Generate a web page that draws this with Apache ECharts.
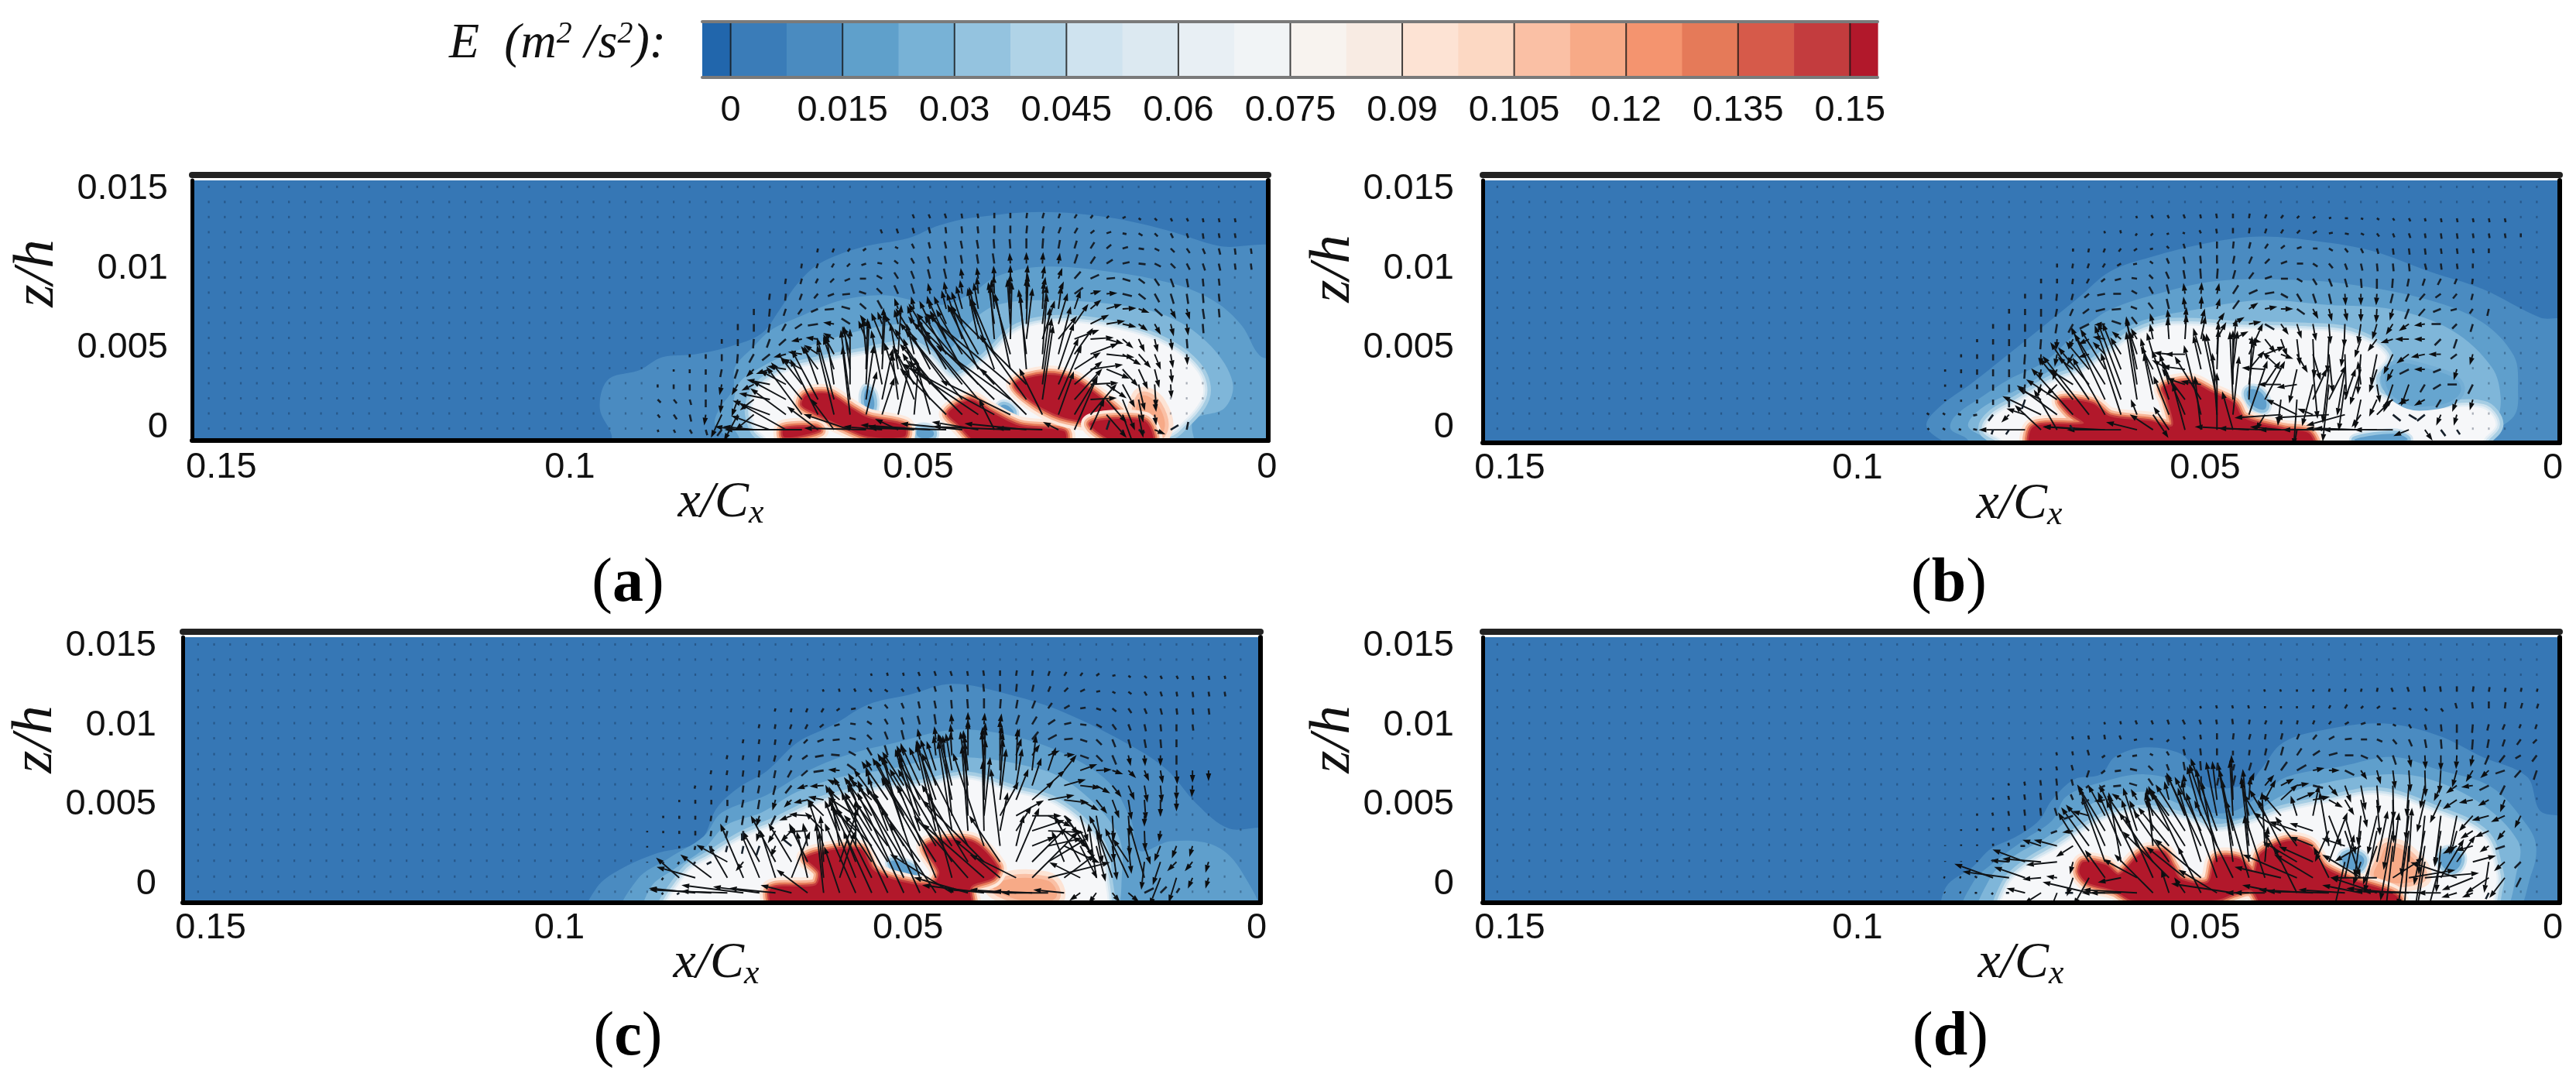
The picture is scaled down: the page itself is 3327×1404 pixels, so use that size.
<!DOCTYPE html>
<html><head><meta charset="utf-8">
<script src="https://cdn.jsdelivr.net/npm/echarts@6/dist/echarts.min.js"></script>
<style>html,body{margin:0;background:#fff}#c{width:3327px;height:1404px;filter:blur(0.7px)}</style>
</head><body><div id="c"></div>
<script>
// ---------- colour bar ----------
const colorbarEdges=[-0.0038,0,0.0075,0.015,0.0225,0.03,0.0375,0.045,0.0525,0.06,0.0675,0.075,0.0825,0.09,0.0975,0.105,0.1125,0.12,0.1275,0.135,0.1425,0.15,0.1537];
const colorbarColors=["#2166ac","#3a7cb8","#4a8bc0","#5fa0cb","#78b2d6","#94c3df","#b0d3e7","#cfe3ef","#dce9f1","#e8eff4","#f1f4f6","#f8f3ef","#f8ebe3","#fde3d4","#fcd8c3","#fac0a5","#f7aa87","#f4946f","#e57a59","#d65a4a","#c33c3e","#b2182b"];
const colorbarTicks=[0,0.015,0.03,0.045,0.06,0.075,0.09,0.105,0.12,0.135,0.15];
const xTicks=[0,0.05,0.1,0.15];
const zTicks=[0,0.005,0.01,0.015];
// ---------- measurement lattice (x/Cx and z/h, in thousandths) ----------
const latticeX=[2.3,4.6,6.9,9.2,11.5,13.8,16.1,18.4,20.7,23,25.3,27.6,29.9,32.2,34.5,36.8,39.1,41.4,43.7,46,48.3,50.6,52.9,55.2,57.5,59.8,62.1,64.4,66.7,69,71.3,73.6,75.9,78.2,80.5,82.8,85.1,87.4,89.7,92,94.3,96.6,98.9,101.2,103.5,105.8,108.1,110.4,112.7,115,117.3,119.6,121.9,124.2,126.5,128.8,131.1,133.4,135.7,138,140.3,142.6,144.9,147.2,149.5,151.8];
const latticeZTop=[-0.15,0.8,1.75,2.7,3.65,4.6,5.55,6.5,7.45,8.4,9.35,10.3,11.25,12.2,13.15,14.1,15.05];
const latticeZBot=[-0.55,0.4,1.4,2.4,3.35,4.3,5.3,6.2,7.15,8.1,9.1,10.05,11.05,12.1,13.1,14.05,15];
// ---------- E contours, panel a ----------
const a1=[[-2,10.95],[6.8,11.4],[14.4,12.4],[22.7,13.2],[32.3,13.55],[41.9,13.2],[47,12.7],[51.4,11.9],[58.4,11.3],[64.2,10.3],[67.4,9],[69.9,7.4],[72.5,5.9],[76.9,5.1],[82,4.6],[86.8,4.4],[90,3.6],[94.5,3],[95.7,1.2],[94,-0.5],[94,-2],[-2,-2]];
const a2=[[-2,4],[1,4.5],[3.6,6.4],[7.4,7.9],[13.2,9],[22.7,9.8],[32.3,10.1],[38.7,9.5],[42.5,8.4],[47,7.7],[54.6,8.3],[61,8],[67.4,6.9],[71.2,6.1],[73.8,5],[76.3,3.8],[76.6,2.4],[78.5,1.2],[79.2,0.2],[77.6,-0.65],[77,-2],[-2,-2]];
const a3=[[4.9,2.8],[8,5.1],[13.8,6.9],[21.4,7.7],[31.7,8],[38.7,7.7],[42.5,6.6],[45.7,4.95],[48.2,6.4],[54.6,6.4],[62.3,5.6],[68.7,4.6],[72.5,3.8],[75.7,2.8],[76.6,1.2],[76.6,0.1],[75.7,-0.65],[75,-2],[10.6,-2],[10.6,0.4],[6.1,1.2]];
const a4=[[9.3,1.9],[10,3.5],[14.4,5.1],[20.8,6.1],[29.1,6.6],[35.5,6.1],[39.3,4.6],[41.9,3.65],[45,3],[48.9,4.5],[51.4,5],[58.4,4.5],[64.2,4],[68.7,3.5],[72.5,2.5],[73.8,1.2],[73.1,-0.1],[71.9,-0.65],[71,-2],[15.1,-2],[15.1,-0.65],[13.1,-0.1]];
const redA1=[[66.1,2],[62.9,2.1],[59.7,1.2],[57.2,0.6],[52,0.1],[52,-0.57],[57.2,-0.57],[61,0.1],[64.8,0.9],[66.7,1.4]];
const redA2=[[69.3,-0.1],[64.8,0],[64.2,-0.2],[67.4,-0.57],[69.3,-0.6]];
const redA3=[[45.7,0.9],[42.5,1.7],[39.9,1.05],[35.5,0.1],[29.1,-0.25],[29.1,-1],[41.2,-1],[44.4,0.25]];
const redA4=[[36.1,2.7],[31.7,3.3],[27.8,3],[24,1.9],[20.8,0.7],[20.8,0.25],[28.5,0.55],[32.9,1.4]];
const redA5=[[25.3,0.25],[17.6,0.4],[16.4,-1],[21.4,-1]];
const orangeA=[[18.2,1.9],[15.6,1.4],[15,-0.4],[18.2,-0.4]];
const holeA1=[[57.5,2.4],[56.5,2],[56.6,1],[57.6,1.2]];
const holeA2=[[38,1.4],[36.5,1.1],[36.6,0.6],[38.2,0.8]];
const holeA3=[[50,-0.1],[48,-0.2],[48,-0.6],[50,-0.6]];
// ---------- panel b ----------
const b1=[[-2,6.6],[1.8,6.9],[10.1,8.7],[17.7,9.8],[26,11.1],[33.7,11.7],[42,12],[49.6,11.6],[57.9,10.7],[63.7,9.8],[68.1,8.2],[72.6,6.6],[78.3,4.6],[83.5,2.8],[87.9,1.4],[90.1,0.2],[88.5,-0.65],[81.5,-2],[-2,-2]];
const b2=[[5,2.5],[5.6,4.5],[10.1,6.6],[17.7,8],[29.2,9],[38.8,9.3],[48.4,9.2],[56,8.5],[63.7,7.4],[68.8,5.8],[73.2,4.1],[78.3,3],[82.2,1.9],[86,0.7],[86.6,-0.1],[84.1,-0.8],[84,-2],[10.7,-2],[10.7,-0.8],[5.6,0.7]];
const b3=[[7.5,1.9],[8.8,3.8],[14.5,6.1],[22.8,7.4],[32.4,7.7],[42,8],[51.5,7.4],[59.8,6.6],[66.2,5],[72,3.65],[77.1,2.35],[82.2,1.2],[84.1,0.1],[81.5,-0.8],[81,-2],[11.4,-2],[11.4,-0.8],[8.2,0.4]];
const b4=[[10.1,1.2],[17.7,1.2],[24.8,1.9],[26,3.2],[24.1,4.5],[29.2,5.8],[35.6,6.1],[45.2,6.2],[54.7,6.4],[59.8,5.8],[63.7,4.6],[67.5,3.5],[72,2.8],[77.1,1.5],[80.3,0.7],[81.5,-0.1],[79,-0.9],[79,-2],[10.1,-2],[10.1,-0.9],[8.2,0.2]];
const redB1=[[70.7,1.7],[66.2,1.5],[63.7,0.7],[57.9,0.4],[54.7,0.1],[55.4,1.7],[56,2.5],[52.2,2.85],[49,2.2],[45.8,1.5],[44.5,0.6],[38.8,-0.1],[35,-0.4],[34.3,-2],[74.5,-2],[74.8,0],[67.5,0.25],[69.4,0.9]];
const holeB1=[[43.9,2.3],[42,2.2],[41.3,1.2],[43.2,1.4]];
const holeB2=[[28.5,-0.8],[22.8,-0.4],[21,-0.8]];
const eyeB=[[23.5,3.8],[17.2,3.6],[13.2,2.5],[16.5,1.4],[22.8,1.9]];
// ---------- panel c ----------
const c1=[[-2,3.3],[4,3.5],[8.5,5],[12.9,7.2],[18,8.7],[27.6,10.8],[35.3,11.9],[43.6,12.6],[49.9,11.9],[55.7,11.3],[60.8,10],[65.9,8.9],[70.3,7.1],[74.2,6.1],[77.4,4.8],[79.9,2.7],[86.3,1.9],[91.4,0.9],[94.6,-0.2],[95.9,-2],[-2,-2]];
const c2=[[0.2,-2],[2.1,0.75],[5.9,2.4],[12.3,2.7],[16.8,2.1],[18,4],[21.2,6.4],[27.6,8.2],[35.3,9.35],[43.6,9.7],[51.8,8.9],[58.2,8.2],[64,7.2],[70.3,5.6],[76.7,4.5],[79.3,3],[84.4,1.6],[88.8,0.3],[90.8,-2]];
const c3=[[21.2,-2],[19.3,0.75],[20,3.2],[25.1,5.8],[30.8,7.2],[43.6,8],[53.1,7.2],[59.5,6.75],[65.9,5.8],[71,4.5],[76.1,3.7],[79.3,2.2],[83.7,0.9],[86.9,-0.2],[87.6,-2]];
const c4=[[22.5,-2],[21.9,0.75],[23.1,2.7],[28.9,4.97],[35.3,5.8],[41.6,6.6],[48,6.1],[55,5.8],[62.7,5],[69.1,3.7],[73.5,2.9],[78,1.7],[81.8,0.6],[84.4,-2]];
const redC1=[[64.6,1.7],[56.9,2.2],[55,0.9],[51.8,0.26],[46.7,-0.07],[45.5,0.75],[47.4,2.4],[41,2.7],[37.2,1.1],[37.8,0.4],[41,-0.2],[41,-2],[68.4,-2],[69.7,-0.3],[63.3,-0.07],[62.7,0.75]];
const orangeC=[[37.8,-0.07],[30.2,0.26],[28.9,-0.9],[34,-1]];
const holeC1=[[52.5,1.4],[49.9,1.2],[48.7,0.6],[50.6,0.4]];
// ---------- panel d ----------
const d1=[[-2,4],[1.8,4.6],[3.7,6.75],[10.1,8],[16.5,9.35],[24.1,10.1],[32.4,9.75],[38.8,8.9],[42,7.2],[43.9,6.3],[49.6,6.1],[51.5,7.2],[53.5,8.2],[58.6,8.6],[63,8],[65,6.9],[68.8,6.6],[72,5.3],[73.9,4],[77.1,3],[80.9,2.2],[83.4,1.1],[87.3,-0.2],[87.3,-2],[-2,-2]];
const d2=[[2.4,2.4],[3.7,3.7],[8.8,6.1],[16.5,7.2],[22.8,8],[30.5,7.4],[38.2,6.75],[42,5.6],[45.8,4.6],[49.6,4.6],[52.2,6.1],[58.6,6.9],[65,6.4],[70,5.5],[72,4],[75.8,2.85],[80.3,1.4],[83.4,0.1],[84.7,-2],[6.3,-2],[3,0.75]];
const d3=[[5,1.1],[5,2.7],[10.1,5],[17.7,6.6],[24.1,6.9],[32.4,6.4],[38.8,5.6],[43.9,4.3],[48.4,4.15],[53.5,5],[58.6,5.8],[65,5.3],[69.4,4.15],[72.6,3],[77.7,1.7],[80.9,0.4],[82.2,-2],[8.2,-2]];
const d4=[[8.2,0.75],[10.1,3],[17.1,4.5],[24.8,5.6],[32.4,5.1],[38.8,4.5],[43.3,3.8],[48.4,3.3],[52.8,4],[58.6,4.5],[63.7,4.15],[67.5,3.3],[71.3,2.2],[75.2,1.2],[78.3,-0.1],[79,-2],[10.1,-2],[8.2,-0.07]];
const redD1=[[67.5,1.4],[64.3,1.2],[62.4,0.6],[59.2,1.9],[56,2],[54.7,1.1],[53.5,0.3],[49.6,0.1],[48.4,1.6],[45.2,1.6],[43,0.75],[42,1.9],[38.2,2.7],[35,2.4],[33,1.1],[29.2,0.3],[24.1,-0.4],[22.2,-0.9],[22.2,-2],[40.7,-2],[43.3,-0.4],[45.8,-0.6],[48.4,-1],[60.5,-1],[63,-0.4],[66.9,0.1],[68.1,0.75]];
const orangeD=[[23.5,2.4],[19.6,1.4],[19,0.3],[25.4,0.4],[24.8,1.6]];
const holeD1=[[29.9,1.9],[27.3,1.7],[27.9,0.9],[29.9,1.1]];
const holeD2=[[15.8,2],[13.3,1.9],[13.9,0.9],[15.8,1.1]];
// ---------- velocity arrows: [row, leftmost column, u,v, u,v, ...] left to right, in arrow units ----------
const quiverA=[
[14,22,-2,5,-2,5,-2,6,-1,6,-1,6,0,7,0,7,1,7,2,7,2,6,3,5,3,4,3,3,4,2,3,-2,3,-3,2,-4,2,-4,1,-5,1,-5,1,-5],
[13,24,-2,5,-2,6,-2,7,-2,8,-1,8,-1,9,-1,9,0,10,0,10,1,10,2,9,3,8,4,7,5,4,6,2,5,-1,5,-3,4,-4,3,-6,2,-6,1,-7,1,-6,1,-6],
[12,28,-1,-5,-2,-5,-3,-4,-4,-3,-4,-1,-4,2,-3,6,-2,8,-2,9,-2,10,-2,11,-1,12,-1,12,0,13,1,13,2,11,3,10,5,8,6,5,7,2,7,-1,6,-3,5,-5,4,-6,3,-7,2,-8,1,-8,1,-7],
[11,29,-1,-6,-2,-6,-3,-5,-4,-4,-6,-2,-6,1,-5,4,-4,7,-3,9,-2,10,-2,11,-2,12,-2,13,-1,14,0,15,1,15,2,14,4,12,6,9,8,5,9,2,9,-1,8,-4,6,-6,4,-8,3,-9,2,-9,1,-8,1,-8],
[10,30,-1,-7,-2,-7,-3,-6,-5,-5,-7,-3,-8,0,-7,4,-5,8,-4,10,-3,12,-3,13,-2,14,-2,15,-1,17,0,18,2,18,3,17,5,14,8,9,11,5,11,1,10,-3,8,-6,6,-9,4,-11,2,-11,1,-10,1,-9],
[9,31,-1,-8,-1,-9,-3,-8,-5,-6,-8,-3,-10,-1,-9,3,-7,7,-5,11,-4,13,-3,14,-3,16,-3,18,-2,22,-1,24,0,26,2,26,4,22,7,16,11,8,14,4,14,1,12,-3,9,-7,6,-11,4,-13,2,-13,1,-12,1,-10],
[8,32,0,-8,-1,-10,-3,-9,-5,-7,-9,-4,-12,-1,-11,3,-8,7,-6,11,-5,14,-4,16,-4,17,-6,24,-8,30,-6,34,-4,38,-2,40,0,40,2,36,4,30,8,24,14,12,20,6,18,1,14,-5,10,-9,7,-13,4,-14,2,-13,1,-11],
[7,33,0,-8,0,-10,-2,-11,-5,-9,-9,-6,-13,-2,-14,2,-11,7,-8,12,-6,16,-5,19,-9,24,-14,30,-16,36,-14,42,-12,48,-8,54,-4,58,2,58,6,50,12,40,18,26,24,12,24,4,18,-4,12,-9,8,-14,4,-16,2,-15,1,-12],
[6,34,0,-6,0,-9,-1,-12,-4,-11,-9,-8,-14,-3,-16,2,-14,8,-10,16,-10,24,-14,34,-18,32,-24,40,-28,46,-24,52,-20,60,-14,66,-6,70,2,74,8,66,16,50,24,30,32,12,30,2,22,-6,14,-12,8,-17,4,-17,2,-15,1,-12],
[5,36,0,-4,0,-6,0,-9,-1,-12,-6,-11,-10,-8,-16,-4,-18,3,-18,12,-14,26,-10,36,-4,46,2,60,4,64,-10,40,-16,46,-28,50,-34,58,-36,64,-30,72,-22,78,-10,84,6,78,16,62,24,34,36,14,36,-4,24,-14,16,-18,8,-20,3,-18,1,-14],
[4,37,0,-3,0,-5,0,-7,-2,-10,-4,-12,-10,-10,-18,-6,-24,4,-26,14,-22,30,-14,42,-8,56,2,66,4,74,-10,60,-14,40,-24,46,-38,66,-42,76,-40,84,-32,92,-20,98,-8,96,10,80,20,60,34,22,42,6,30,-12,20,-22,12,-26,6,-24,2,-18],
[3,38,0,-4,0,-6,0,-8,0,-10,-3,-14,-8,-14,-16,-8,-30,6,-34,18,-28,36,-18,50,-10,64,0,72,4,82,-14,70,-18,54,-28,50,-46,72,-60,80,-70,88,-80,92,-84,90,-110,92,-100,100,12,86,26,60,36,30,36,2,26,-18,16,-30,8,-34,2,-30,1,-18],
[2,38,4,-4,4,-5,2,-7,0,-10,-2,-18,-8,-22,-18,-14,-40,8,-44,24,-40,48,-34,64,-22,80,-12,90,10,70,14,66,-8,60,-24,62,-36,60,-60,72,-74,90,-84,100,-92,90,-96,70,-60,84,14,96,30,70,36,40,34,2,26,-30,16,-40,6,-30,2,-16],
[1,38,3,-4,4,-6,2,-9,-2,-14,-14,-30,-18,-34,-24,-20,-48,18,-46,34,-46,62,-36,72,-22,90,-10,88,14,56,16,48,14,60,6,66,-20,74,-60,60,-70,70,-98,66,-110,60,-90,44,-60,60,-30,60,20,56,30,50,34,40,26,-30,18,-50,6,-30,2,-14],
[0,38,1,-3,2,-4,3,-5,2,-7,-6,-8,-30,4,-40,4,-50,18,-60,34,-100,0,-40,30,-30,40,-60,20,-80,2,-50,4,-30,14,-60,4,-90,6,-100,2,-80,8,-60,10,-20,40,-100,4,-80,8,-60,2,-20,10,30,70,18,40,4,12,2,-8,8,-4,14,-6,10,6,2,10]
];
const quiverB=[
[14,26,-1,3,-2,4,-2,4,-2,5,-1,5,-1,6,0,6,1,6,2,5,3,4,3,3,3,2,3,1,4,0,3,-1,3,-2,2,-3,2,-4,1,-4,1,-5,1,-5,1,-5,1,-5,1,-5],
[13,28,-1,3,-1,4,-2,-3,-3,-3,-3,-1,-3,1,-2,4,-1,6,0,7,1,7,2,6,3,5,4,4,5,3,5,1,5,-1,4,-2,3,-4,2,-5,2,-6,1,-6,1,-7,1,-7,1,-6,1,-6,1,-6,0,-5],
[12,30,0,-4,-1,-5,-2,-5,-3,-4,-4,-3,-4,-1,-3,3,-2,6,-1,8,0,9,1,9,2,8,4,6,5,4,6,2,6,0,5,-3,4,-5,3,-6,2,-7,1,-8,1,-8,1,-8,1,-7,1,-7,1,-6,0,-6],
[11,31,0,-5,-1,-6,-2,-6,-3,-5,-5,-3,-5,-1,-4,3,-3,7,-2,9,-1,10,0,11,2,10,4,9,6,6,8,3,8,0,6,-4,5,-6,3,-8,2,-9,1,-10,1,-10,1,-10,2,-8,1,-8,1,-7,0,-6],
[10,32,0,-6,0,-6,-1,-7,-3,-6,-5,-4,-8,-2,-7,1,-5,5,-4,9,-2,11,-1,13,1,13,3,11,6,8,9,3,9,0,7,-4,5,-8,4,-10,3,-11,1,-12,0,-13,-1,-12,-2,-10,-3,-9,-4,-8,-3,-7,-1,-7],
[9,33,0,-6,0,-7,-1,-9,-2,-8,-6,-5,-10,-2,-10,0,-7,4,-5,9,-3,12,-2,14,1,15,3,14,7,11,11,5,12,2,9,-5,6,-10,4,-12,3,-13,1,-15,0,-15,-1,-15,-3,-12,-4,-10,-7,-8,-7,-5,-5,-6,-2,-8],
[8,34,0,-6,0,-8,0,-10,-2,-10,-4,-9,-8,-6,-12,-3,-12,-1,-8,3,-6,8,-3,13,-2,16,1,17,4,14,8,11,12,8,16,3,16,0,10,-7,7,-13,4,-16,3,-16,0,-17,-1,-18,-4,-15,-5,-13,-8,-9,-10,-4,-8,-2,-4,-6,-2,-9],
[7,35,0,-6,0,-8,0,-10,0,-11,-2,-12,-6,-11,-12,-6,-14,-1,-12,4,-7,9,-4,14,-2,19,2,22,5,20,10,15,15,9,16,3,12,-7,10,-14,6,-19,4,-22,2,-26,-1,-30,-4,-26,-6,-20,-9,-14,-13,-9,-14,-2,-12,0,-6,-6,-3,-10],
[6,36,0,-4,0,-7,0,-9,0,-10,-1,-13,-1,-14,-6,-13,-14,-7,-16,3,-12,10,-8,14,-4,20,-2,28,2,32,6,30,12,22,20,10,16,-4,14,-18,8,-22,4,-34,2,-50,-2,-44,-5,-36,-8,-24,-12,-16,-16,-5,-18,0,-14,0,-8,-8,-4,-12],
[5,37,0,-4,0,-6,0,-8,0,-10,-1,-13,-1,-15,-3,-16,-8,-14,-14,-4,-16,16,-14,22,-10,30,-8,28,-20,2,-26,0,-10,34,2,42,4,46,18,40,26,10,16,-6,14,-24,10,-34,5,-50,2,-58,-4,-52,-8,-40,-12,-26,-16,-12,-18,-4,-16,0,-8,-6,-4,-14],
[4,38,0,-3,0,-5,0,-7,0,-9,0,-10,-1,-12,-2,-14,-6,-14,-20,16,-30,36,-32,52,-24,60,-14,66,-16,30,-22,12,-30,4,-10,44,2,52,6,50,20,24,-30,2,-24,22,-10,-44,6,-64,-8,-70,-10,-60,-14,-46,-10,-30,-8,-16,-12,-6,-14,0,-10,-4,-4,-14],
[3,38,0,-3,0,-4,0,-6,0,-8,0,-10,-2,-12,-4,-14,-14,-14,-32,20,-40,48,-40,66,-30,80,-14,88,-16,60,-12,40,-24,8,-26,4,-14,66,0,70,8,60,20,30,-30,0,-26,-4,-14,-54,-8,-74,-8,-60,-4,30,4,-24,-12,-36,-10,-28,-6,-10,-10,-6,-12,0,-6,-12],
[2,38,0,-2,0,-3,0,-5,0,-7,0,-10,-4,-12,-30,14,-40,26,-44,54,-50,74,-44,94,-34,96,-14,88,-12,60,-22,64,-30,40,-34,56,-18,86,-4,88,4,82,26,50,-4,-34,-4,-60,18,40,22,44,14,40,-8,-38,-10,-22,-14,-10,-14,-6,-14,-8,-6,-10,-6,-16,-4,-14],
[1,39,-3,2,-3,2,-4,1,-5,-1,-6,-8,-10,-10,-24,8,-50,24,-52,38,-54,60,-60,76,-42,74,-26,80,-8,20,20,-30,-20,50,-30,70,-22,90,-6,80,8,76,24,70,-12,-20,-60,-4,-40,20,-20,8,-70,-4,-50,-14,-12,-16,20,20,10,-8,10,-6,-10,-8,-6,-14,-4,-14],
[0,39,-2,2,-3,2,-3,1,-5,1,-2,-6,-4,-6,-60,0,-34,32,-30,52,-4,6,-60,4,-80,4,-70,0,-40,10,-30,20,-20,30,-16,60,-8,70,0,74,-14,50,-70,4,-60,2,-40,4,-4,-24,-70,0,-60,0,-50,2,-60,2,-70,0,-50,0,-20,-8,10,-14,6,-8,4,-6]
];
const quiverC=[
[14,24,-1,3,-1,4,-1,4,-2,5,-2,6,-2,6,-1,6,-1,7,0,7,1,7,1,7,2,6,3,5,3,4,4,3,4,1,3,-2,3,-3,2,-4,2,-4,1,-5,1,-5,1,-4],
[13,27,-1,3,-1,4,-2,4,-3,4,-4,3,-3,4,-3,6,-2,7,-2,8,-1,9,-1,10,0,10,1,10,2,9,3,7,5,5,6,3,5,1,4,-2,4,-3,3,-5,2,-6,1,-6,1,-7,1,-6,1,-6],
[12,30,-1,-4,-1,-5,-2,-5,-3,-5,-4,-3,-6,-1,-5,2,-4,5,-3,7,-2,9,-2,10,-1,11,-1,12,0,13,1,12,2,11,4,10,5,7,7,4,7,1,6,-2,5,-4,4,-6,3,-7,2,-8,1,-8,1,-8,1,-8],
[11,31,-1,-5,-1,-6,-2,-6,-3,-6,-5,-4,-7,-2,-7,1,-6,4,-4,7,-3,9,-3,11,-2,13,-1,14,0,16,1,15,2,14,4,12,6,10,9,6,9,2,8,-1,7,-4,5,-7,3,-8,2,-9,1,-9,0,-9,1,-8],
[10,32,-1,-5,-1,-6,-1,-7,-3,-7,-5,-5,-8,-3,-9,-1,-8,2,-6,6,-4,10,-3,12,-3,14,-2,17,-2,20,0,26,2,22,3,18,5,14,8,10,11,6,11,1,9,-3,7,-7,4,-10,3,-11,2,-11,1,-11,0,-10],
[9,33,-1,-5,-1,-6,-1,-8,-2,-8,-4,-7,-7,-5,-11,-2,-11,1,-9,5,-6,10,-4,13,-4,16,-4,20,-3,26,-2,30,0,44,2,36,4,30,7,22,10,14,15,6,14,1,11,-4,8,-8,5,-12,3,-14,1,-14,0,-14,0,-12],
[8,34,-1,-5,-1,-6,-1,-8,-1,-9,-2,-10,-5,-9,-8,-7,-13,-2,-15,1,-11,8,-8,14,-6,18,-6,20,-14,30,-12,38,-8,48,-5,46,-3,50,0,66,2,54,5,46,10,30,16,20,22,8,20,1,14,-5,10,-10,6,-14,3,-17,1,-18,0,-16,0,-14],
[7,35,-1,-4,-1,-6,-1,-7,-1,-9,-2,-10,-3,-12,-8,-10,-14,-4,-18,-1,-16,8,-10,16,-8,22,-20,36,-28,44,-24,52,-20,60,-16,66,-10,70,-2,76,4,60,8,48,12,36,22,20,28,8,26,-3,18,-10,12,-15,8,-19,4,-22,2,-22,0,-19,-1,-15],
[6,36,0,-3,0,-5,0,-6,0,-8,-2,-10,-2,-12,-4,-14,-10,-10,-18,-4,-20,4,-16,14,-10,26,-28,26,-34,50,-34,60,-30,70,-26,76,-18,86,-6,90,2,78,8,66,16,40,28,24,34,6,32,-4,24,-14,14,-18,9,-24,4,-26,2,-26,0,-22,0,-15],
[5,37,0,-3,0,-4,0,-5,-1,-7,-2,-9,-2,-12,-4,-14,-6,-12,-16,-6,-24,2,-22,22,-14,38,-36,24,-36,50,-44,60,-36,72,-30,86,-24,96,-12,104,-4,96,8,76,24,44,36,20,38,0,30,-14,18,-24,10,-34,6,-34,2,-32,2,-26,0,-14],
[4,38,0,-2,0,-3,0,-4,0,-6,-1,-7,-2,-9,-2,-12,-4,-14,-10,-16,-14,-14,-26,-1,-24,24,-14,42,-32,30,-32,60,-26,70,-28,96,-32,106,-26,112,-18,116,-8,110,-2,90,10,50,20,32,42,14,46,-2,32,-22,16,-34,8,-42,2,-40,2,-32,1,-26,-2,-14],
[3,38,0,-2,0,-2,0,-3,-1,-5,-1,-6,-2,-8,-2,-10,-4,-12,-6,-14,-10,8,-6,30,-20,60,-10,56,0,60,-36,40,-42,56,-40,70,-50,88,-60,100,-70,110,-60,120,-40,120,-12,100,10,40,30,12,44,10,46,-22,22,-42,12,-46,6,-44,4,-36,8,-24,-8,-20,-6,-16,-4,-14],
[2,38,0,-1,0,-2,-2,-3,-3,-4,-6,-3,-40,22,-10,-12,-22,40,-32,60,-30,50,-24,50,-4,60,24,70,-16,40,-46,70,-56,90,-60,100,-70,96,-70,110,-70,120,-60,100,-80,80,-40,60,30,70,44,44,50,30,-16,40,-34,60,-40,60,-30,60,-20,30,-4,-36,-10,-30,-12,-12,-10,-12,-4,-14],
[1,37,-2,-3,-30,26,-50,14,-40,30,-24,42,-30,70,-24,58,-20,62,24,60,-14,60,-6,60,20,60,-40,100,-60,120,-70,130,-60,126,-44,130,-50,120,-30,110,-70,80,-80,70,-60,50,-60,30,60,60,80,20,40,30,-40,20,-10,70,-20,60,-30,64,-20,70,-14,-36,-10,-32,-6,-14,-4,-14],
[0,37,-2,-2,-3,-2,-60,6,-80,4,-60,2,-80,10,-60,8,-60,6,-40,10,-40,30,-10,90,-20,60,-40,90,-50,110,-60,130,-60,130,-50,110,-60,90,-80,50,-70,20,-80,10,-70,4,-60,4,-50,2,-60,0,-40,4,-14,-10,-10,-14,10,-12,14,-12,12,6,8,8,4,6]
];
const quiverD=[
[13,18,-1,3,-1,3,0,3,1,3,1,4,1,4,1,4,1,5,-2,5,-2,6,-1,7,-1,7,0,7,1,7,1,6,1,5,1,5,1,4],
[12,22,-1,3,-1,4,-1,4,-1,4,0,3,0,3,0,3,1,4,2,4,3,5,3,3,4,3,4,0,3,-2,3,-3,3,-4,-2,7,-1,8,0,9,1,8,2,7,2,6,1,-6],
[11,28,-1,3,-1,4,-2,5,-2,5,-2,6,-3,6,-2,6,-1,6,-1,7,1,6,2,5,1,5,1,5,2,5,3,4,5,3,6,2,5,0,4,-2,3,-5,2,-7,1,-9,0,-11,-1,-11,-2,-8,-3,-7,-2,-5,-2,-6],
[10,30,-1,4,-1,5,-1,6,-2,5,-4,-1,-4,1,-3,-3,-2,4,-1,6,0,8,1,8,2,7,1,7,2,8,3,7,5,6,7,4,9,1,8,0,7,-3,5,-6,4,-9,2,-11,1,-12,0,-13,-1,-13,-2,-11,-3,-9,-5,-7,-5,-5,-4,-7],
[9,31,-1,4,-1,5,-2,7,-4,-3,-5,-2,-6,-1,-4,2,-3,5,-2,8,-1,9,0,9,0,6,1,7,2,9,3,11,6,9,9,6,11,3,11,0,9,-4,7,-8,4,-12,3,-16,1,-18,0,-20,-1,-18,-3,-15,-5,-12,-7,-9,-7,-4,-6,-8,-3,-10],
[8,32,-1,3,-1,5,-2,7,-3,-9,-5,-4,-8,-1,-9,2,-6,6,-3,8,-2,11,-1,12,1,10,2,8,3,10,5,13,8,11,12,7,15,3,14,0,12,-6,8,-12,5,-18,3,-24,2,-28,1,-34,-2,-30,-6,-22,-9,-15,-11,-10,-12,-4,-8,-9,-4,-12],
[7,34,-1,3,-1,5,-1,7,-1,9,-2,8,-4,-3,-8,-4,-10,-1,-10,3,-6,9,-4,13,-2,15,0,12,2,10,3,13,7,17,12,14,17,9,16,3,13,-3,12,-14,8,-22,6,-32,3,-36,1,-44,-3,-40,-6,-30,-9,-20,-14,-10,-15,-2,-12,-6,-6,-12],
[6,35,0,3,-1,5,-1,7,-1,9,-1,11,-3,7,-10,-4,-14,-2,-12,8,-8,14,-6,18,-6,24,-4,26,-6,40,-6,50,-2,58,2,30,14,26,22,20,24,10,22,4,18,-10,12,-20,8,-36,4,-46,1,-56,-4,-52,-10,-42,-14,-30,-18,-12,-18,-4,-14,-8,-6,-16],
[5,36,0,3,-1,4,-1,6,-1,8,-1,10,-3,10,-12,-4,-22,6,-22,40,-18,26,-10,20,-8,28,-26,36,-24,56,-18,64,-14,70,-4,72,-10,46,-20,34,-24,28,-8,26,8,40,16,-40,14,-50,-4,-38,-12,-50,-12,-70,-10,-78,-8,-76,-8,-66,-10,-50,-18,-20,-22,-6,-18,-8,-8,-16],
[4,37,0,2,0,3,0,4,-1,5,-1,7,-4,2,-8,-3,-14,-2,-30,34,-36,60,-28,60,-18,56,-10,50,-32,40,-38,60,-34,70,-34,94,-18,80,-8,80,-28,48,-36,24,-36,12,-30,10,-18,-40,20,-60,-8,-60,-16,-80,-16,-90,-14,-98,-14,-70,-8,-44,-8,-30,-16,-10,-18,-8,-10,-12],
[3,38,0,1,0,2,0,2,0,3,-1,4,-6,0,-24,8,-30,8,-22,-14,-36,50,-34,76,-30,70,-20,60,-8,76,-40,50,-44,70,-44,92,-36,106,-20,108,-10,90,-4,70,-30,60,-28,38,-30,12,-12,70,-30,10,-34,-20,-18,-50,-10,-90,-8,-110,-14,-90,-6,-60,-18,-10,-22,-6,-12,-8,-12,-4],
[2,38,0,1,0,1,0,2,-1,3,-24,2,-42,16,-50,4,-40,-4,-4,-16,-40,64,-30,84,-16,90,-40,80,-44,64,-46,66,-46,96,-30,96,-20,104,-14,106,-6,60,4,46,-22,40,-44,26,-44,20,24,64,-16,-70,-10,-30,14,66,8,64,4,70,-10,-60,-16,-60,24,34,30,8,-6,-40,-14,-12,-8,-8],
[1,38,-2,1,-2,1,-3,2,-50,18,-60,8,-40,14,-24,-2,-14,2,-8,-24,-20,-36,-26,36,-30,-6,-44,24,-36,80,-60,60,-50,40,-60,50,-40,110,-50,100,-30,100,-26,80,-60,14,-70,30,-50,30,-20,40,12,56,-50,30,-60,0,40,26,60,10,70,6,30,50,-60,20,-40,-16,-30,-20,-20,-26,-6,-12],
[0,38,-1,1,-2,1,-3,0,-2,-2,-4,0,-24,6,-22,-14,-8,-20,-10,0,-60,14,-30,0,-40,0,-70,4,-50,50,-10,30,-14,20,-30,60,-50,30,-80,12,-30,0,-40,0,-50,10,-30,60,-70,4,-80,2,-60,4,-50,10,-60,20,-60,6,-70,2,-80,2,-30,0,-20,-6,-14,-6,-4,-8]
];
// ---------- panel definitions ----------
const panelNames=['(a)','(b)','(c)','(d)'];
const layout=[
 {l:248,r:1638,t:233,b:569,x0:-0.2,x1:154.2,z0:-0.83,z1:15.53,m:31,bm:12,xLab:[931,650],zLab:[48,353],tag:[811,755],q:quiverA,lz:latticeZTop,
  lv:[[a1,'L1'],[a2,'L2'],[a3,'L3'],[a4,'W'],[holeA1,'H'],[holeA2,'H'],[holeA3,'H'],[orangeA,'O'],[redA1,'R'],[redA2,'R'],[redA3,'R'],[redA4,'R'],[redA5,'R']]},
 {l:1915,r:3306,t:233,b:572,x0:-1,x1:153.9,z0:-0.97,z1:15.53,m:37,bm:10,xLab:[2608,652],zLab:[1722,347],tag:[2517,755],q:quiverB,lz:latticeZTop,
  lv:[[b1,'L1'],[b2,'L2'],[b3,'L3'],[b4,'W'],[eyeB,'E'],[holeB1,'H'],[holeB2,'H'],[redB1,'R']]},
 {l:236,r:1628,t:823,b:1166,x0:-0.55,x1:154,z0:-1.17,z1:15.53,m:34,bm:10,xLab:[925,1245],zLab:[46,955],tag:[811,1341],q:quiverC,lz:latticeZBot,
  lv:[[c1,'L1'],[c2,'L2'],[c3,'L3'],[c4,'W'],[holeC1,'H'],[orangeC,'O'],[redC1,'R']]},
 {l:1915,r:3306,t:823,b:1166,x0:-1,x1:153.9,z0:-1.17,z1:15.53,m:37,bm:10,xLab:[2610,1245],zLab:[1722,955],tag:[2519,1341],q:quiverD,lz:latticeZBot,
  lv:[[d1,'L1'],[d2,'L2'],[d3,'L3'],[d4,'W'],[holeD1,'H'],[holeD2,'H'],[orangeD,'O'],[redD1,'R']]}
];
const MILLI=0.001;
const SANS='"Liberation Sans",Arial,sans-serif', SERIF='"Liberation Serif","Times New Roman",serif';
const INK='#111';
const levelStyle={
 L1:{fill:'#4a8bc1',rings:[],smooth:0.35},
 L2:{fill:'#5f9fcc',rings:[],smooth:0.35},
 L3:{fill:'#7fb6d9',rings:[],smooth:0.35},
 W:{fill:'#f6f7f9',rings:[[20,'#a6cde3'],[11,'#cfe3ef'],[5,'#e6eff5']],smooth:0.35},
 E:{fill:'#66a5cf',rings:[[10,'#74aed5']],smooth:0.5},
 H:{fill:'#5f9fcc',rings:[[14,'#cfe3ef'],[8,'#94c3df']],smooth:0.5},
 O:{fill:'#f7aa87',rings:[[22,'#fde3d4'],[10,'#fac0a5']],smooth:0.5},
 R:{fill:'#b2182b',rings:[[24,'#fde9dd'],[16,'#f8b596'],[10,'#e57a59'],[5,'#c33c3e']],smooth:0.3}
};
function contourRender(shapes){
 return function(params,api){
  const s=shapes[params.dataIndex];
  const pts=s[0].map(p=>api.coord([p[0]*MILLI,p[1]*MILLI]));
  const st=levelStyle[s[1]];
  const kids=st.rings.map(r=>({type:'polygon',shape:{points:pts,smooth:st.smooth},style:{fill:r[1],stroke:r[1],lineWidth:r[0],lineJoin:'round'},silent:true}));
  kids.push({type:'polygon',shape:{points:pts,smooth:st.smooth},style:{fill:st.fill,stroke:null},silent:true});
  return {type:'group',children:kids};
 };
}
function arrowRender(params,api){
 const p=api.coord([api.value(0),api.value(1)]);
 const u=api.value(2),v=api.value(3),len=Math.hypot(u,v);
 const tip=[p[0]+u,p[1]-v];
 if(api.value(4)){ // faint far-field stub
  return {type:'line',shape:{x1:p[0],y1:p[1],x2:tip[0],y2:tip[1]},style:{stroke:'rgba(10,25,50,0.33)',lineWidth:2.2},silent:true};
 }
 if(len<14){
  return {type:'line',shape:{x1:p[0],y1:p[1],x2:tip[0],y2:tip[1]},style:{stroke:'#16202b',lineWidth:2.6},silent:true};
 }
 const ux=u/len,uy=-v/len,h=10,w=3.4;
 const bx=tip[0]-ux*h,by=tip[1]-uy*h;
 return {type:'group',children:[
  {type:'line',shape:{x1:p[0],y1:p[1],x2:bx,y2:by},style:{stroke:'#101316',lineWidth:1.9},silent:true},
  {type:'polygon',shape:{points:[tip,[bx-uy*w,by+ux*w],[bx+uy*w,by-ux*w]]},style:{fill:'#0c0e10'},silent:true}
 ]};
}
function buildArrows(q,lz){
 const typed={},out=[];
 q.forEach(r=>{
  for(let j=0;j*2+3<r.length;j++){
   const k=r[1]-j; if(k<1) continue;
   typed[r[0]+'_'+k]=[r[2+j*2],r[3+j*2]];
  }
 });
 lz.forEach((z,i)=>latticeX.forEach((x,n)=>{
  const t=typed[i+'_'+(n+1)];
  if(t) out.push([x*MILLI,z*MILLI,t[0],t[1],0]);
  else out.push([x*MILLI,z*MILLI,0,3,1]);
 }));
 return out;
}
const W=3327,H=1404;
const grid=[],xAxis=[],yAxis=[],series=[],graphic=[];
layout.forEach((P,i)=>{
 grid.push({left:P.l,top:P.t,width:P.r-P.l,height:P.b-P.t,show:true,backgroundColor:'#3677b5',borderWidth:0});
 const bottomX={gridIndex:i,type:'value',inverse:true,z:10,min:P.x0*MILLI,max:P.x1*MILLI,position:'bottom',
  axisLine:{show:true,onZero:false,lineStyle:{color:'#000',width:6}},axisTick:{show:false},splitLine:{show:false},
  axisLabel:{customValues:xTicks,formatter:v=>String(v),fontSize:47,fontFamily:SANS,color:INK,margin:P.bm}};
 const topX={gridIndex:i,type:'value',inverse:true,z:10,min:P.x0*MILLI,max:P.x1*MILLI,position:'top',offset:7,
  axisLine:{show:true,onZero:false,lineStyle:{color:'#222',width:8}},axisTick:{show:false},splitLine:{show:false},axisLabel:{show:false}};
 xAxis.push(bottomX,topX);
 yAxis.push({gridIndex:i,type:'value',z:10,min:P.z0*MILLI,max:P.z1*MILLI,position:'left',
  axisLine:{show:true,onZero:false,lineStyle:{color:'#000',width:5}},axisTick:{show:false},splitLine:{show:false},
  axisLabel:{customValues:zTicks,formatter:v=>String(v),fontSize:47,fontFamily:SANS,color:INK,margin:P.m}},
  {gridIndex:i,type:'value',z:10,min:P.z0*MILLI,max:P.z1*MILLI,position:'right',
  axisLine:{show:true,onZero:false,lineStyle:{color:'#000',width:6}},axisTick:{show:false},splitLine:{show:false},axisLabel:{show:false}});
 series.push({type:'custom',coordinateSystem:'cartesian2d',xAxisIndex:i*2,yAxisIndex:i*2,clip:true,silent:true,animation:false,z:1,
  data:P.lv.map((s,n)=>[n]),encode:{x:-1,y:-1},renderItem:contourRender(P.lv)});
 series.push({type:'custom',coordinateSystem:'cartesian2d',xAxisIndex:i*2,yAxisIndex:i*2,clip:true,silent:true,animation:false,z:2,
  data:buildArrows(P.q,P.lz),encode:{x:0,y:1},renderItem:arrowRender});
 graphic.push({type:'text',x:P.xLab[0],y:P.xLab[1],style:{text:'{t|x/C}{s|x}',textAlign:'center',textVerticalAlign:'middle',
  rich:{t:{fontFamily:SERIF,fontStyle:'italic',fontSize:66,fill:INK,lineHeight:80},s:{fontFamily:SERIF,fontStyle:'italic',fontSize:44,fill:INK,padding:[26,0,0,0]}}}});
 graphic.push({type:'text',x:P.zLab[0],y:P.zLab[1],rotation:Math.PI/2,style:{text:'z/h',font:'italic 75px '+SERIF,fill:INK,textAlign:'center',textVerticalAlign:'middle'}});
 const ch=panelNames[i].charAt(1);
 graphic.push({type:'text',x:P.tag[0],y:P.tag[1],style:{text:'{p|(}{b|'+ch+'}{p|)}',textAlign:'center',textVerticalAlign:'middle',
  rich:{p:{fontFamily:SERIF,fontSize:80,fill:'#000'},b:{fontFamily:SERIF,fontWeight:'bold',fontSize:80,fill:'#000'}}}});
});
// colour bar grid
grid.push({left:907,top:28,width:1518,height:72,show:false});
xAxis.push({gridIndex:4,type:'value',z:10,min:colorbarEdges[0],max:colorbarEdges[colorbarEdges.length-1],position:'bottom',
 axisLine:{show:true,onZero:false,lineStyle:{color:'#7a7a7a',width:4}},axisTick:{show:false},splitLine:{show:false},
 axisLabel:{customValues:colorbarTicks,formatter:v=>String(v),fontSize:47,fontFamily:SANS,color:INK,margin:20}});
xAxis.push({gridIndex:4,type:'value',z:10,min:colorbarEdges[0],max:colorbarEdges[colorbarEdges.length-1],position:'top',
 axisLine:{show:true,onZero:false,lineStyle:{color:'#7a7a7a',width:4}},axisTick:{show:false},splitLine:{show:false},axisLabel:{show:false}});
yAxis.push({gridIndex:4,type:'value',min:0,max:1,show:false});
series.push({type:'custom',coordinateSystem:'cartesian2d',xAxisIndex:8,yAxisIndex:8,silent:true,animation:false,z:1,
 data:colorbarColors.map((c,i)=>[colorbarEdges[i],colorbarEdges[i+1]]),encode:{x:[0,1],y:-1},
 renderItem:function(params,api){
  const a=api.coord([api.value(0),1]),b=api.coord([api.value(1),0]);
  return {type:'rect',shape:{x:a[0],y:a[1],width:b[0]-a[0]+0.6,height:b[1]-a[1]},style:{fill:colorbarColors[params.dataIndex]},silent:true};
 }});
series.push({type:'custom',coordinateSystem:'cartesian2d',xAxisIndex:8,yAxisIndex:8,silent:true,animation:false,z:2,
 data:colorbarTicks.map(v=>[v]),encode:{x:0,y:-1},
 renderItem:function(params,api){
  const a=api.coord([api.value(0),1]),b=api.coord([api.value(0),0]);
  return {type:'line',shape:{x1:a[0],y1:a[1],x2:b[0],y2:b[1]},style:{stroke:'rgba(20,20,20,0.8)',lineWidth:2},silent:true};
 }});
graphic.push({type:'text',x:860,y:57,style:{text:'{e|E  (m}{u|2}{e| /s}{u|2}{e|):}',textAlign:'right',textVerticalAlign:'middle',
 rich:{e:{fontFamily:SERIF,fontStyle:'italic',fontSize:64,fill:INK,lineHeight:80},u:{fontFamily:SERIF,fontStyle:'italic',fontSize:40,fill:INK,padding:[0,0,26,0]}}}});
const chart=echarts.init(document.getElementById('c'),null,{renderer:'canvas',width:W,height:H});
chart.setOption({backgroundColor:'#fff',animation:false,grid,xAxis,yAxis,series,graphic:{elements:graphic}});
</script></body></html>
